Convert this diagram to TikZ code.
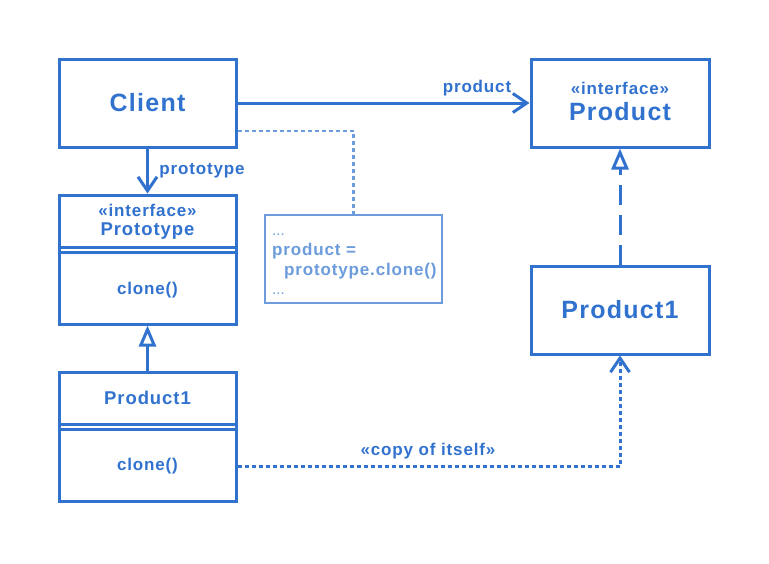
\documentclass[tikz,border=0pt]{standalone}
\usepackage{fontspec}
\setmainfont{Liberation Sans}[LetterSpace=5]
\newfontfamily\dotsfont{Liberation Sans}
\usetikzlibrary{arrows.meta}
\definecolor{umlblue}{HTML}{3172CF}
\definecolor{noteblue}{HTML}{6C9CDB}
\newcommand{\fsmall}{\fontsize{17}{20}\selectfont\bfseries}
\newcommand{\fmed}{\fontsize{18.5}{22}\selectfont\bfseries}
\newcommand{\flarge}{\fontsize{25}{30}\selectfont\bfseries}
\tikzset{
  box/.style={draw=umlblue, line width=3pt, fill=white, inner sep=0pt},
  notebox/.style={draw=noteblue, line width=2.7pt, fill=white, inner sep=0pt},
  txt/.style={text=umlblue, inner sep=0pt},
  notetxt/.style={text=noteblue, inner sep=0pt, anchor=base west},
  sep/.style={draw=umlblue, line width=2.1pt},
  assoc/.style={draw=umlblue, line width=3pt, -{Straight Barb[length=14pt,width=19pt,line width=3pt]}},
  gen/.style={draw=umlblue, line width=3pt, -{Triangle[open,length=21pt,width=17pt,line width=3pt]}},
  real/.style={draw=umlblue, line width=3pt, dash pattern=on 20pt off 10pt, -{Triangle[open,length=21pt,width=17pt,line width=3pt]}},
  dep/.style={draw=umlblue, line width=3pt, dash pattern=on 4pt off 3pt, -{Straight Barb[length=14pt,width=19pt,line width=3pt]}},
  notelink/.style={draw=noteblue, line width=2.7pt, dash pattern=on 4pt off 3pt},
}
\begin{document}
\begin{tikzpicture}[x=1pt, y=-1pt]
\useasboundingbox[fill=white] (0,0) rectangle (769,563);

% boxes
\node[box, minimum width=177pt, minimum height=88pt] (client) at (147.5,103) {};
\node[box, minimum width=177pt, minimum height=129pt] (proto) at (147.5,259.5) {};
\node[box, minimum width=177pt, minimum height=129pt] (prodl) at (147.5,436.5) {};
\node[box, minimum width=178pt, minimum height=88pt] (prodif) at (620,103) {};
\node[box, minimum width=178pt, minimum height=88pt] (prodr) at (620,310) {};
\node[notebox, minimum width=177pt, minimum height=88pt] (note) at (353.5,259) {};

% compartment separators
\draw[sep] (proto.north west) ++(0,54) coordinate (pa) -- (pa -| proto.east);
\draw[sep] (proto.north west) ++(0,59) coordinate (pb) -- (pb -| proto.east);
\draw[sep] (prodl.north west) ++(0,54) coordinate (la) -- (la -| prodl.east);
\draw[sep] (prodl.north west) ++(0,59) coordinate (lb) -- (lb -| prodl.east);

% texts
\node[txt] (clientname) at (147.5,103) {\flarge Client};
\node[txt] (protost) at (147.5,210) {\fsmall «interface»};
\node[txt] (protoname) at (147.5,231) {\fmed Prototype};
\node[txt] (protoop) at (147.5,290) {\fsmall clone()};
\node[txt] (prodlname) at (147.5,398) {\fmed Product1};
\node[txt] (prodlop) at (147.5,466) {\fsmall clone()};
\node[txt] (prodifst) at (620,88) {\fsmall «interface»};
\node[txt] (prodifname) at (620,112) {\flarge Product};
\node[txt] (prodrname) at (620,310) {\flarge Product1};

% note text
\node[notetxt] (n1) at (272,235) {\dotsfont\fontsize{15}{18}\selectfont ...};
\node[notetxt] (n2) at (272,255) {\fsmall product =};
\node[notetxt] (n3) at (284,275) {\fsmall prototype.clone()};
\node[notetxt] (n4) at (272,294) {\dotsfont\fontsize{15}{18}\selectfont ...};

% connectors
\draw[assoc] (client.east) -- (prodif.west);
\node[txt] (lblproduct) at (477,88) {\fsmall product};
\draw[assoc] (client.south) -- (proto.north);
\node[txt] (lblproto) at (202,171) {\fsmall prototype};
\draw[notelink] ([yshift=-28pt]client.east) -| (note.north);
\draw[gen] (prodl.north) -- (proto.south);
\draw[real] (prodr.north) -- (prodif.south);
\draw[dep] ([yshift=-29.5pt]prodl.east) -| (prodr.south);
\node[txt] (lblcopy) at (428,451) {\fsmall «copy of itself»};
\end{tikzpicture}
\end{document}
